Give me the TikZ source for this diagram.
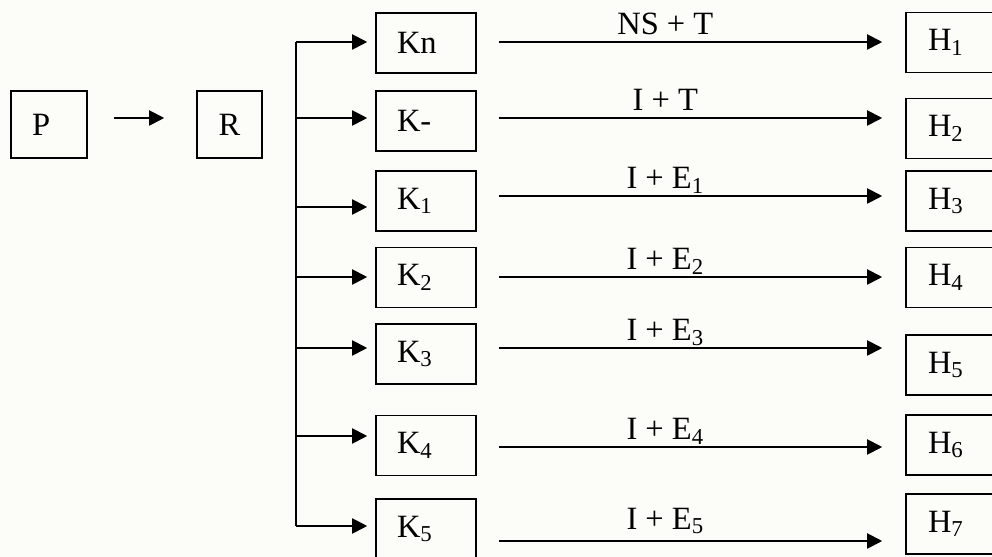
\documentclass[tikz,border=0pt]{standalone}
\usepackage{fontspec}
\setmainfont{Liberation Serif}
\usepackage{xcolor}
\usepackage{tikz}
\usetikzlibrary{
  arrows.meta,
  positioning,
  calc
}
\definecolor{PaperWhite}{HTML}{FCFDF8}
\tikzset{
  box/.style={
    draw,
    line width=0.9pt,
    minimum height=1.2cm,
    inner ysep=0pt,
    inner xsep=0.42cm,
    align=left,
    font=\fontsize{18.5}{22}\selectfont
  },
  startbox/.style={
    box,
    minimum height=1.34cm,
    text width=0.68cm
  },
  middlebox/.style={
    box,
    minimum height=1.34cm,
    text width=0.46cm,
    align=center
  },
  groupbox/.style={
    box,
    text width=1.16cm
  },
  resultbox/.style={
    box,
    inner xsep=0.44cm,
    text width=1.12cm
  },
  busline/.style={
    line width=1.1pt
  },
  flow/.style={
    -{Triangle[length=0.3cm,width=0.3cm]},
    line width=1.1pt
  },
  treat/.style={
    flow,
    shorten <=0.44cm,
    shorten >=0.46cm
  },
  treatment/.style={
    anchor=base,
    inner sep=0pt,
    yshift=0.14cm,
    font=\fontsize{18.5}{22}\selectfont
  }
}

\begin{document}
\begin{tikzpicture}[x=0.02cm, y=-0.02cm]

  \fill[PaperWhite] (0,0) rectangle (992,557);
  \clip (0,0) rectangle (992,557);

  % population and randomisation
  \node[startbox] (p) at (49,124.5) {P};
  \node[middlebox] (r) at (229.5,124.5) {R};

  \draw[
    flow,
    shorten <=0.52cm,
    shorten >=0.64cm
  ]
  (p.east |- 0,118) -- (r.west |- 0,118);

  % groups
  \node[groupbox] (kn) at (426,43) {Kn};
  \node[groupbox] (kminus) at (426,121) {K-};
  \node[groupbox] (kone) at (426,201) {K\textsubscript{1}};
  \node[groupbox] (ktwo) at (426,277.5) {K\textsubscript{2}};
  \node[groupbox] (kthree) at (426,354) {K\textsubscript{3}};
  \node[groupbox] (kfour) at (426,445.5) {K\textsubscript{4}};
  \node[groupbox] (kfive) at (426,529) {K\textsubscript{5}};

  % results
  \node[resultbox] (hone) at (956,42.5) {H\textsubscript{1}};
  \node[resultbox] (htwo) at (956,128.5) {H\textsubscript{2}};
  \node[resultbox] (hthree) at (956,201) {H\textsubscript{3}};
  \node[resultbox] (hfour) at (956,277.5) {H\textsubscript{4}};
  \node[resultbox] (hfive) at (956,365) {H\textsubscript{5}};
  \node[resultbox] (hsix) at (956,445) {H\textsubscript{6}};
  \node[resultbox] (hseven) at (956,524) {H\textsubscript{7}};

  % bus splitting into the groups
  \coordinate (bus) at (296,42);
  \coordinate (busend) at (296,526);
  \draw[busline] (bus) -- (busend);

  \draw[flow, shorten >=0.16cm] (bus) -- (kn.west |- bus);
  \draw[flow, shorten >=0.16cm] (bus |- 0,118) -- (kminus.west |- 0,118);
  \draw[flow, shorten >=0.16cm] (bus |- 0,207) -- (kone.west |- 0,207);
  \draw[flow, shorten >=0.16cm] (bus |- 0,277) -- (ktwo.west |- 0,277);
  \draw[flow, shorten >=0.16cm] (bus |- 0,348) -- (kthree.west |- 0,348);
  \draw[flow, shorten >=0.16cm] (bus |- 0,436) -- (kfour.west |- 0,436);
  \draw[flow, shorten >=0.16cm] (busend) -- (kfive.west |- busend);

  % treatments
  \draw[treat]
  (kn.east |- 0,42) --
  node[treatment, pos=0.44] {NS + T}
  (hone.west |- 0,42);

  \draw[treat]
  (kminus.east |- 0,118) --
  node[treatment, pos=0.44] {I + T}
  (htwo.west |- 0,118);

  \draw[treat]
  (kone.east |- 0,196) --
  node[treatment, pos=0.44] {I + E\textsubscript{1}}
  (hthree.west |- 0,196);

  \draw[treat]
  (ktwo.east |- 0,277) --
  node[treatment, pos=0.44] {I + E\textsubscript{2}}
  (hfour.west |- 0,277);

  \draw[treat]
  (kthree.east |- 0,348) --
  node[treatment, pos=0.44] {I + E\textsubscript{3}}
  (hfive.west |- 0,348);

  \draw[treat]
  (kfour.east |- 0,447) --
  node[treatment, pos=0.44] {I + E\textsubscript{4}}
  (hsix.west |- 0,447);

  \draw[treat]
  (kfive.east |- 0,541) --
  node[treatment, pos=0.44, yshift=0.1cm] {I + E\textsubscript{5}}
  (hseven.west |- 0,541);

\end{tikzpicture}
\end{document}
